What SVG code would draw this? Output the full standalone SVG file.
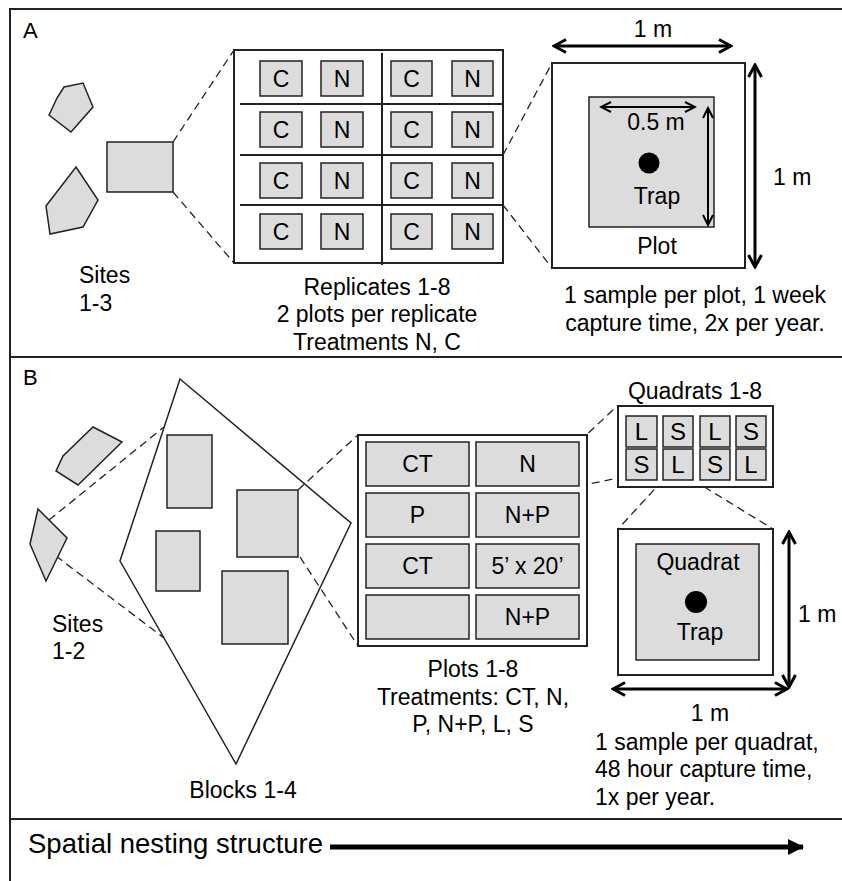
<svg xmlns="http://www.w3.org/2000/svg" width="842" height="881" viewBox="0 0 842 881">
<style>
.t{font-family:'Liberation Sans',Arial,Helvetica,sans-serif;font-size:23px;fill:#000}
.m{text-anchor:middle}
.g{fill:#dcdcdc;stroke:#222;stroke-width:1.5}
.w{fill:#fff;stroke:#222;stroke-width:2}
.o{fill:none;stroke:#222;stroke-width:1.5}
.d{fill:none;stroke:#222;stroke-width:1.3;stroke-dasharray:8 5}
.f{stroke:#222;stroke-width:2;fill:none}
.a3{fill:none;stroke:#000;stroke-width:3;marker-start:url(#ah);marker-end:url(#ah)}
.a2{fill:none;stroke:#000;stroke-width:2;marker-start:url(#as);marker-end:url(#as)}
</style>
<defs>
<marker id="ah" markerUnits="userSpaceOnUse" markerWidth="16" markerHeight="16" viewBox="0 0 16 16" refX="14" refY="8" orient="auto-start-reverse">
<path d="M2,1.5 L14,8 L2,14.5" fill="none" stroke="#000" stroke-width="3" stroke-linejoin="miter"/>
</marker>
<marker id="as" markerUnits="userSpaceOnUse" markerWidth="14" markerHeight="14" viewBox="0 0 14 14" refX="12" refY="7" orient="auto-start-reverse">
<path d="M2,2 L12,7 L2,12" fill="none" stroke="#000" stroke-width="2"/>
</marker>
<marker id="big" markerUnits="userSpaceOnUse" markerWidth="18" markerHeight="18" viewBox="0 0 18 18" refX="16" refY="9" orient="auto">
<path d="M1,1 L17,9 L1,17 Z" fill="#000"/>
</marker>
</defs>

<g id="frame">
<line class="f" x1="10" y1="9" x2="842" y2="9"/>
<line class="f" x1="10" y1="8" x2="10" y2="881"/>
<line class="f" x1="9" y1="357" x2="842" y2="357"/>
<line class="f" x1="9" y1="819" x2="842" y2="819"/>
</g>

<g id="connectors">
<line class="d" x1="173" y1="142" x2="234" y2="50"/>
<line class="d" x1="173" y1="192" x2="234" y2="263"/>
<line class="d" x1="503" y1="155" x2="552" y2="63"/>
<line class="d" x1="503" y1="205" x2="552" y2="268"/>
<line class="d" x1="49" y1="520" x2="164" y2="427"/>
<line class="d" x1="56" y1="556" x2="164" y2="638"/>
<line class="d" x1="298" y1="490" x2="358" y2="435"/>
<line class="d" x1="300" y1="557" x2="358" y2="646"/>
<line class="d" x1="579" y1="442" x2="617" y2="406"/>
<line class="d" x1="579" y1="486" x2="618" y2="478"/>
<line class="d" x1="663" y1="480" x2="618" y2="529"/>
<line class="d" x1="693" y1="480" x2="773" y2="529"/>
</g>

<g id="panelA-label"><text class="t" x="23" y="38" style="font-size:22px">A</text></g>

<g id="sitesA">
<polygon class="g" points="64,87 83,83 93,107 71,132 49,115 57,98"/>
<polygon class="g" points="76,167 98,200 83,227 50,234 46,206"/>
<rect class="g" x="107" y="142" width="66" height="50"/>
<text class="t" x="79" y="283">Sites</text>
<text class="t" x="79" y="311">1-3</text>
</g>

<g id="replicates">
<rect x="234" y="50" width="269" height="213" fill="#fff" stroke="#222" stroke-width="2"/>
<line class="f" x1="382" y1="53" x2="382" y2="265"/>
<line class="f" x1="240" y1="104" x2="503" y2="104"/>
<line class="f" x1="240" y1="155" x2="503" y2="155"/>
<line class="f" x1="240" y1="205" x2="503" y2="205"/>
<g>
<rect class="g" x="260" y="61" width="42" height="35"/><rect class="g" x="321" y="61" width="42" height="35"/><rect class="g" x="391" y="61" width="41" height="35"/><rect class="g" x="452" y="61" width="41" height="35"/>
<rect class="g" x="260" y="112" width="42" height="35"/><rect class="g" x="321" y="112" width="42" height="35"/><rect class="g" x="391" y="112" width="41" height="35"/><rect class="g" x="452" y="112" width="41" height="35"/>
<rect class="g" x="260" y="163" width="42" height="35"/><rect class="g" x="321" y="163" width="42" height="35"/><rect class="g" x="391" y="163" width="41" height="35"/><rect class="g" x="452" y="163" width="41" height="35"/>
<rect class="g" x="260" y="214" width="42" height="35"/><rect class="g" x="321" y="214" width="42" height="35"/><rect class="g" x="391" y="214" width="41" height="35"/><rect class="g" x="452" y="214" width="41" height="35"/>
</g>
<g class="t m">
<text x="281" y="87">C</text><text x="342" y="87">N</text><text x="411.5" y="87">C</text><text x="472.5" y="87">N</text>
<text x="281" y="138">C</text><text x="342" y="138">N</text><text x="411.5" y="138">C</text><text x="472.5" y="138">N</text>
<text x="281" y="189">C</text><text x="342" y="189">N</text><text x="411.5" y="189">C</text><text x="472.5" y="189">N</text>
<text x="281" y="240">C</text><text x="342" y="240">N</text><text x="411.5" y="240">C</text><text x="472.5" y="240">N</text>
</g>
<text class="t m" x="377" y="295">Replicates 1-8</text>
<text class="t m" x="377" y="322">2 plots per replicate</text>
<text class="t m" x="377" y="350">Treatments N, C</text>
</g>

<g id="plotA">
<rect class="w" x="552" y="63" width="193" height="205"/>
<rect class="g" x="589" y="97" width="125" height="130"/>
<circle cx="649" cy="163" r="10.5" fill="#000"/>
<line class="a3" x1="554" y1="46" x2="731" y2="46"/>
<line class="a3" x1="755" y1="65" x2="755" y2="267"/>
<line class="a2" x1="601" y1="107" x2="695" y2="107"/>
<line class="a2" x1="708" y1="108" x2="708" y2="225"/>
<text class="t m" x="653" y="37">1 m</text>
<text class="t" x="773" y="185">1 m</text>
<text class="t m" x="656" y="130">0.5 m</text>
<text class="t m" x="657" y="204">Trap</text>
<text class="t m" x="657" y="254">Plot</text>
<text class="t m" x="695" y="303">1 sample per plot, 1 week</text>
<text class="t m" x="695" y="331">capture time, 2x per year.</text>
</g>

<g id="panelB-label"><text class="t" x="23" y="385" style="font-size:22px">B</text></g>

<g id="sitesB">
<polygon class="g" points="93,427 122,442 78,485 56,471 63,456"/>
<polygon class="g" points="38,509 67,538 46,581 30,544"/>
<text class="t" x="52" y="632">Sites</text>
<text class="t" x="52" y="659">1-2</text>
</g>

<g id="blocks">
<polygon class="o" points="180,379 351,523 236,764 120,561"/>
<rect class="g" x="167" y="435" width="45" height="73"/>
<rect class="g" x="237" y="490" width="61" height="67"/>
<rect class="g" x="156" y="531" width="44" height="60"/>
<rect class="g" x="222" y="571" width="66" height="73"/>
<text class="t m" x="243" y="798">Blocks 1-4</text>
</g>

<g id="plotsB">
<rect class="w" x="358" y="435" width="229" height="211"/>
<rect class="g" x="366" y="442" width="103" height="44"/><rect class="g" x="476" y="442" width="103" height="44"/>
<rect class="g" x="366" y="493" width="103" height="44"/><rect class="g" x="476" y="493" width="103" height="44"/>
<rect class="g" x="366" y="544" width="103" height="44"/><rect class="g" x="476" y="544" width="103" height="44"/>
<rect class="g" x="366" y="595" width="103" height="44"/><rect class="g" x="476" y="595" width="103" height="44"/>
<g class="t m">
<text x="417.5" y="472">CT</text><text x="527.5" y="472">N</text>
<text x="417.5" y="523">P</text><text x="527.5" y="523">N+P</text>
<text x="417.5" y="574">CT</text><text x="527.5" y="574">5’ x 20’</text>
<text x="527.5" y="625">N+P</text>
</g>
<text class="t m" x="473" y="677">Plots 1-8</text>
<text class="t m" x="473" y="705">Treatments: CT, N,</text>
<text class="t m" x="473" y="732">P, N+P, L, S</text>
</g>

<g id="quadrats">
<text class="t m" x="695" y="399">Quadrats 1-8</text>
<rect class="w" x="618" y="406" width="155" height="81"/>
<rect class="g" x="626" y="416" width="31" height="31"/><rect class="g" x="663" y="416" width="30" height="31"/><rect class="g" x="700" y="416" width="30" height="31"/><rect class="g" x="736" y="416" width="30" height="31"/>
<rect class="g" x="626" y="449" width="31" height="31"/><rect class="g" x="663" y="449" width="30" height="31"/><rect class="g" x="700" y="449" width="30" height="31"/><rect class="g" x="736" y="449" width="30" height="31"/>
<g class="t m" style="font-size:24px">
<text x="641.5" y="440">L</text><text x="678" y="440">S</text><text x="715" y="440">L</text><text x="751" y="440">S</text>
<text x="641.5" y="473">S</text><text x="678" y="473">L</text><text x="715" y="473">S</text><text x="751" y="473">L</text>
</g>
</g>

<g id="quadratDetail">
<rect class="w" x="618" y="529" width="155" height="146"/>
<rect class="g" x="636" y="544" width="123" height="116"/>
<circle cx="696" cy="602" r="11" fill="#000"/>
<text class="t m" x="698" y="570">Quadrat</text>
<text class="t m" x="700" y="640">Trap</text>
<line class="a3" x1="789" y1="532" x2="789" y2="687"/>
<line class="a3" x1="613" y1="689" x2="787" y2="689"/>
<text class="t" x="798" y="622">1 m</text>
<text class="t m" x="710" y="721">1 m</text>
<text class="t" x="595" y="750">1 sample per quadrat,</text>
<text class="t" x="595" y="777">48 hour capture time,</text>
<text class="t" x="595" y="805">1x per year.</text>
</g>

<g id="nesting">
<text class="t" x="28" y="853" style="font-size:27.5px">Spatial nesting structure</text>
<line x1="330" y1="847" x2="803" y2="847" stroke="#000" stroke-width="5" marker-end="url(#big)"/>
</g>
</svg>
